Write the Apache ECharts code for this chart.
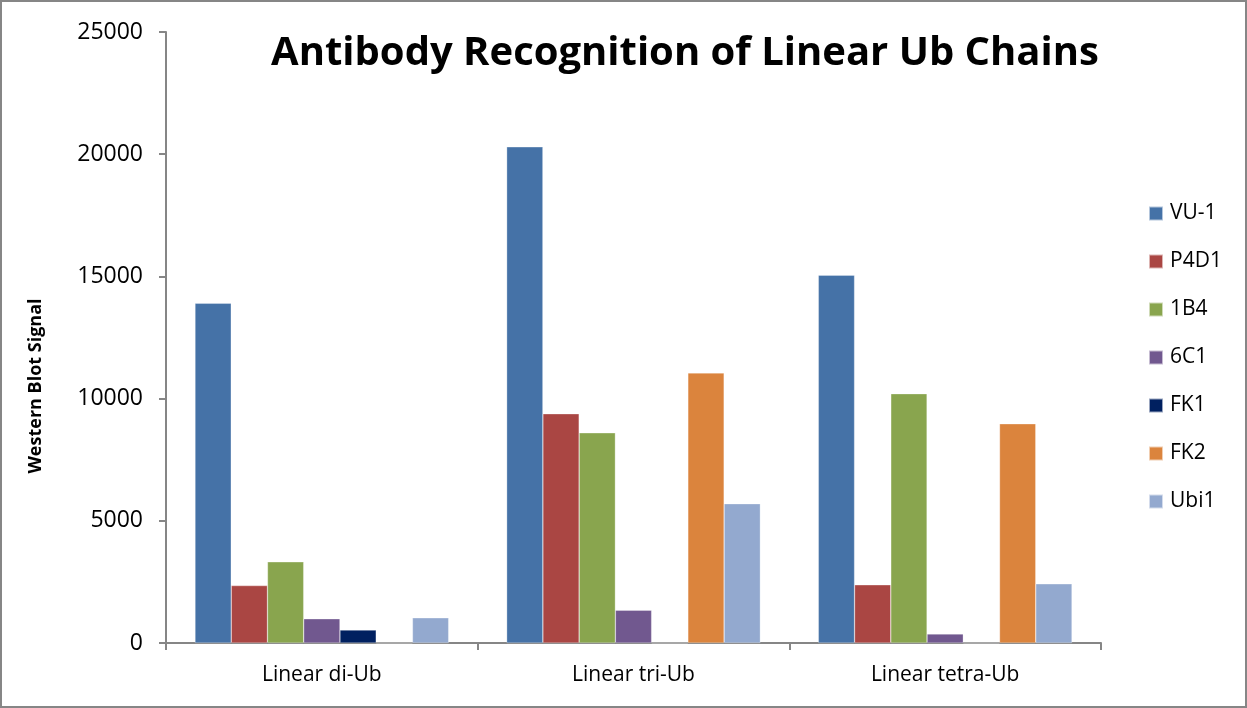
<!DOCTYPE html>
<html>
<head>
<meta charset="utf-8">
<script src="https://cdn.jsdelivr.net/npm/echarts@6/dist/echarts.min.js"></script>
<style>
  html, body { margin: 0; padding: 0; background: #fff; }
  #main { width: 1247px; height: 708px; }
</style>
</head>
<body>
<div id="main"></div>
<script>
// categories and series values
var categories = ['Linear di-Ub', 'Linear tri-Ub', 'Linear tetra-Ub']
var seriesNames = ['VU-1', 'P4D1', '1B4', '6C1', 'FK1', 'FK2', 'Ubi1']
var vu1 = [13900, 20300, 15050]
var p4d1 = [2350, 9380, 2380]
var b4 = [3320, 8600, 10200]
var c61 = [990, 1340, 370]
var fk1 = [530, 0, 0]
var fk2 = [0, 11050, 8970]
var ubi1 = [1030, 5700, 2420]
var seriesValues = [vu1, p4d1, b4, c61, fk1, fk2, ubi1]

var colors = ['#4572A7', '#AA4643', '#89A54E', '#71588F', '#002060', '#DB843D', '#93A9CF']
var font = 'Open Sans'

var chart = echarts.init(document.getElementById('main'))

var series = []
seriesNames.forEach(function (name, i) {
  series.push({
    name: name,
    type: 'bar',
    barGap: 0,
    barCategoryGap: '18.6%',
    data: seriesValues[i],
    itemStyle: {
      color: colors[i],
      borderColor: 'rgba(255,255,255,0.6)',
      borderWidth: 0.5
    }
  })
})

var option = {
  animation: false,
  color: colors,
  title: {
    text: 'Antibody Recognition of Linear Ub Chains',
    left: 680,
    top: 29,
    textAlign: 'center',
    textStyle: {
      fontFamily: font,
      fontWeight: 'bold',
      fontSize: 40,
      color: '#000'
    }
  },
  legend: {
    orient: 'vertical',
    left: 1143,
    top: 198,
    itemWidth: 14,
    itemHeight: 14,
    itemGap: 27,
    icon: 'rect',
    selectedMode: false,
    textStyle: {
      fontFamily: font,
      fontSize: 21,
      color: '#000',
      padding: [0, 0, 0, 2]
    }
  },
  grid: {
    left: 166,
    right: 146,
    top: 32,
    bottom: 65
  },
  xAxis: {
    type: 'category',
    data: categories,
    axisLine: { lineStyle: { color: '#868686', width: 2 } },
    axisTick: { show: true, length: 7, lineStyle: { color: '#868686', width: 2 } },
    axisLabel: {
      fontFamily: font,
      fontSize: 21,
      color: '#000',
      margin: 22
    }
  },
  yAxis: {
    type: 'value',
    min: 0,
    max: 25000,
    interval: 5000,
    axisLine: { show: true, lineStyle: { color: '#868686', width: 2 } },
    axisTick: { show: true, length: 7, lineStyle: { color: '#868686', width: 2 } },
    splitLine: { show: false },
    axisLabel: {
      fontFamily: font,
      fontSize: 23,
      color: '#000',
      margin: 23,
      formatter: function (v) { return String(v) }
    }
  },
  graphic: [{
    type: 'rect',
    shape: { x: 1, y: 1, width: 1245, height: 706 },
    style: { fill: 'none', stroke: '#868686', lineWidth: 2 },
    silent: true
  }, {
    // axis title sits lower than the axis middle in the reference
    type: 'text',
    x: 36,
    y: 386,
    rotation: Math.PI / 2,
    style: {
      text: 'Western Blot Signal',
      fontFamily: font,
      fontWeight: 'bold',
      fontSize: 18,
      fill: '#000',
      align: 'center',
      verticalAlign: 'middle'
    },
    silent: true
  }],
  series: series
}

chart.setOption(option)
</script>
</body>
</html>
